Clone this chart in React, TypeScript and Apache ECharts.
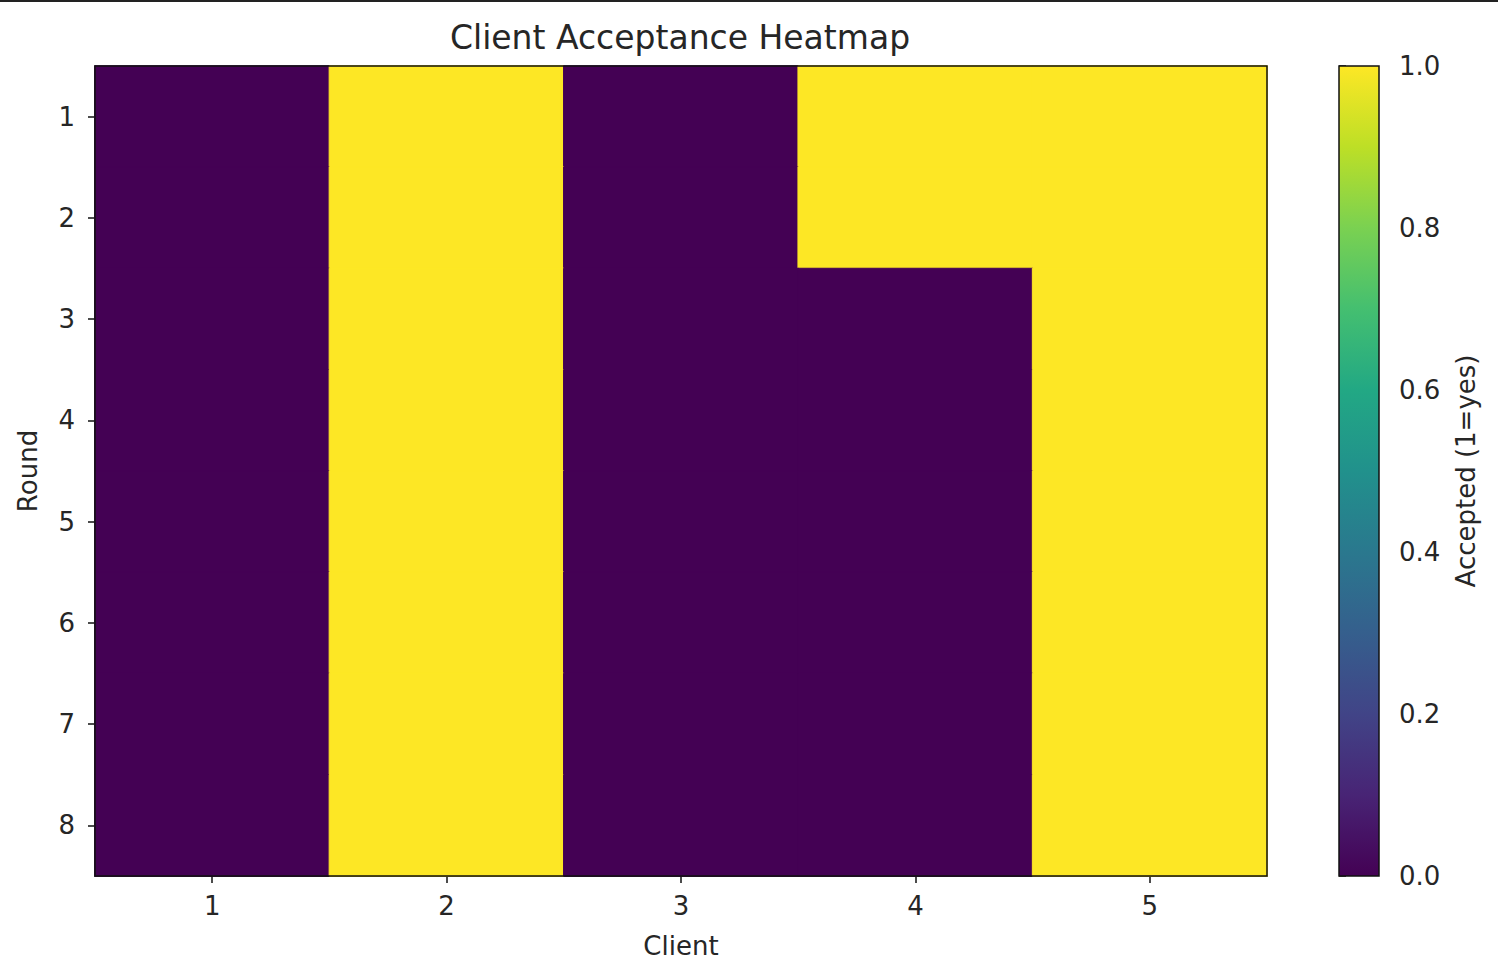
import React, { useEffect, useRef } from "react";
import * as echarts from "echarts";

const clients = ["1", "2", "3", "4", "5"];
const rounds = ["1", "2", "3", "4", "5", "6", "7", "8"];
// accepted[round][client], 1 = accepted
const accepted = [
  [0, 1, 0, 1, 1],
  [0, 1, 0, 1, 1],
  [0, 1, 0, 0, 1],
  [0, 1, 0, 0, 1],
  [0, 1, 0, 0, 1],
  [0, 1, 0, 0, 1],
  [0, 1, 0, 0, 1],
  [0, 1, 0, 0, 1],
];
const colorbarTicks = [0, 0.2, 0.4, 0.6, 0.8, 1.0];
const viridis = [
  "#440154", "#482475", "#414487", "#355f8d", "#2a788e", "#21918c",
  "#22a884", "#44bf70", "#7ad151", "#bddf26", "#fde725",
];

const FONT = "DejaVu Sans";
const TXT = "#262626";

export default function App() {
  const ref = useRef<HTMLDivElement>(null);
  useEffect(() => {
    if (!ref.current) return;
    const chart = echarts.init(ref.current, undefined, { renderer: "svg" });
    const colorOf = (v: number) => viridis[Math.round(v * (viridis.length - 1))];
    const data: any[] = [];
    accepted.forEach((row, r) =>
      row.forEach((v, c) => {
        const col = colorOf(v);
        data.push({ value: [c, r, v], itemStyle: { borderColor: col, borderWidth: 1 } });
      })
    );
    const L = 95, T = 66, R = 1267, B = 876;
    const cbL = 1339, cbW = 40;
    const stops = viridis.map((c, i) => ({ offset: 1 - i / (viridis.length - 1), color: c })).reverse();
    chart.setOption({
      animation: false,
      backgroundColor: "#fff",
      textStyle: { fontFamily: FONT },
      title: {
        text: "Client Acceptance Heatmap",
        left: (L + R) / 2 - 6,
        textAlign: "center",
        top: 16,
        textStyle: { fontFamily: FONT, fontSize: 33, fontWeight: "normal", color: TXT },
      },
      grid: [
        { left: L, top: T, width: R - L, height: B - T, show: false },
        { left: cbL, top: T, width: cbW, height: B - T, show: false },
      ],
      visualMap: { show: false, min: 0, max: 1, seriesIndex: 0, inRange: { color: viridis } },
      xAxis: [
        {
          type: "category", data: clients, gridIndex: 0,
          name: "Client", nameLocation: "middle", nameGap: 57,
          nameTextStyle: { fontFamily: FONT, fontSize: 26, color: TXT },
          axisLine: { show: true, lineStyle: { color: "#111", width: 1.5 } },
          axisTick: { show: true, alignWithLabel: true, length: 7, lineStyle: { color: "#111", width: 1.5 } },
          axisLabel: { fontFamily: FONT, fontSize: 26, color: TXT, margin: 17 },
          splitLine: { show: false },
        },
        { type: "value", gridIndex: 1, show: false, min: 0, max: 1 },
      ],
      yAxis: [
        {
          type: "category", data: rounds, gridIndex: 0, inverse: true,
          name: "Round", nameLocation: "middle", nameGap: 54, nameRotate: 90,
          nameTextStyle: { fontFamily: FONT, fontSize: 26, color: TXT },
          axisLine: { show: true, lineStyle: { color: "#111", width: 1.5 } },
          axisTick: { show: true, alignWithLabel: true, length: 7, lineStyle: { color: "#111", width: 1.5 } },
          axisLabel: { fontFamily: FONT, fontSize: 26, color: TXT, margin: 20 },
          splitLine: { show: false },
        },
        {
          type: "value", gridIndex: 1, position: "right", min: 0, max: 1, interval: 0.2,
          name: "Accepted (1=yes)", nameLocation: "middle", nameGap: 74, nameRotate: 90,
          nameTextStyle: { fontFamily: FONT, fontSize: 26, color: TXT },
          axisLine: { show: false },
          axisTick: { show: true, length: 7, lineStyle: { color: "#111", width: 1.5 } },
          axisLabel: { fontFamily: FONT, fontSize: 26, color: TXT, margin: 20, formatter: (v: number) => v.toFixed(1) },
          splitLine: { show: false },
          data: colorbarTicks,
        },
      ],
      graphic: [
        { type: "rect", left: 0, top: 0, shape: { width: 1498, height: 2 }, style: { fill: "#222" }, z: 100 },
        {
          type: "rect", x: L, y: T, shape: { width: R - L, height: B - T },
          style: { fill: "none", stroke: "#111", lineWidth: 1.5 }, z: 100,
        },
        {
          type: "rect", x: cbL, y: T, shape: { width: cbW, height: B - T },
          style: { fill: new echarts.graphic.LinearGradient(0, 0, 0, 1, stops), stroke: "#111", lineWidth: 1.5 },
          z: 10,
        },
      ],
      series: [
        { type: "heatmap", xAxisIndex: 0, yAxisIndex: 0, data, emphasis: { disabled: true } },
      ],
    });
    return () => chart.dispose();
  }, []);
  return <div ref={ref} style={{ position: "fixed", left: 0, top: 0, width: 1498, height: 978 }} />;
}
